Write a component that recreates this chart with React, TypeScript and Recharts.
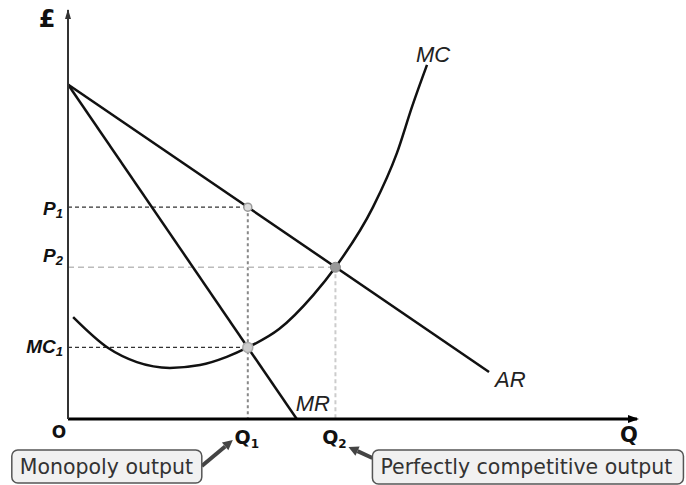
import { LineChart, Line, XAxis, YAxis, ReferenceLine, ReferenceDot } from 'recharts';

// equilibrium values (Q along x, £ along y)
const Q1 = 31.6;
const Q2 = 47.0;
const P1 = 51.8;
const P2 = 37.1;
const MC1 = 17.5;

const arData = [
    { q: 0, p: 81.8 },
    { q: 74, p: 11.5 },
];

const mrData = [
    { q: 0, p: 81.8 },
    { q: 40.2, p: 0 },
];

const mcData = [
    { q: 0.9, p: 24.9 },
    { q: 7.0, p: 17.4 },
    { q: 12.1, p: 13.9 },
    { q: 17.9, p: 12.5 },
    { q: 23.2, p: 13.2 },
    { q: 27.9, p: 15.2 },
    { q: 31.6, p: 17.5 },
    { q: 37.1, p: 22.0 },
    { q: 43.1, p: 30.3 },
    { q: 47.0, p: 37.1 },
    { q: 53.6, p: 51.8 },
    { q: 57.8, p: 65.0 },
    { q: 60.5, p: 76.5 },
    { q: 63.1, p: 86.6 },
];

const xTicks = [0, Q1, Q2, 100];
const yTicks = [MC1, P2, P1, 100];

const boldFont = '"DejaVu Sans", sans-serif';
const labelFont = '"Liberation Sans", Arial, sans-serif';

const XTick = ({ x, y, payload }: any) => {
    const v = payload.value;
    if (v === 0) {
        return <text x={x - 9} y={y + 19} textAnchor="middle" fontFamily={boldFont} fontWeight="bold" fontSize={17} fill="#111">O</text>;
    }
    if (v === 100) {
        return <text x={x - 8} y={y + 23} textAnchor="middle" fontFamily={boldFont} fontWeight="bold" fontSize={21} fill="#111">Q</text>;
    }
    const sub = v === Q1 ? '1' : '2';
    return (
        <text x={x - 1} y={y + 25} textAnchor="middle" fontFamily={boldFont} fontWeight="bold" fontSize={19} fill="#111">
            Q<tspan fontSize={12} dy={4}>{sub}</tspan>
        </text>
    );
};

const YTick = ({ x, y, payload }: any) => {
    const v = payload.value;
    if (v === 100) {
        return <text x={x - 16} y={y + 17} textAnchor="middle" fontFamily={boldFont} fontWeight="bold" fontSize={24} fill="#111">£</text>;
    }
    let main = 'P';
    let sub = '1';
    let dy = 8;
    if (v === P2) { sub = '2'; dy = -5; }
    if (v === MC1) { main = 'MC'; dy = 6; }
    return (
        <text x={x} y={y + dy} textAnchor="end" fontFamily={labelFont} fontWeight="bold" fontStyle="italic" fontSize={19} fill="#111">
            {main}<tspan fontSize={13} dy={3}>{sub}</tspan>
        </text>
    );
};

const CurveLabel = (text: string, dx: number, dy: number) => (props: any) => (
    <text x={props.cx + dx} y={props.cy + dy} fontFamily={labelFont} fontStyle="italic" fontSize={22} fill="#222">{text}</text>
);

const Callout = (text: string, box: number[], tail: number[], head: number[]) => (props: any) => {
    const { cx, cy } = props;
    const [bx, by, bw, bh] = box;
    const x1 = cx + tail[0], y1 = cy + tail[1], x2 = cx + head[0], y2 = cy + head[1];
    const ang = Math.atan2(y2 - y1, x2 - x1);
    const L = 10, W = 5;
    const ax = x2 - L * Math.cos(ang), ay = y2 - L * Math.sin(ang);
    const pts = `${x2},${y2} ${ax + W * Math.sin(ang)},${ay - W * Math.cos(ang)} ${ax - W * Math.sin(ang)},${ay + W * Math.cos(ang)}`;
    return (
        <g>
            <line x1={x1} y1={y1} x2={ax} y2={ay} stroke="#444" strokeWidth={4} />
            <polygon points={pts} fill="#444" />
            <rect x={cx + bx} y={cy + by} width={bw} height={bh} rx={6} fill="#f1f1f1" stroke="#555" strokeWidth={1.5} />
            <text x={cx + bx + 8} y={cy + by + 24} fontFamily={boldFont} fontSize={20.5} fill="#333">{text}</text>
        </g>
    );
};

const xArrow = (props: any) => (
    <polygon points={`${props.cx + 2},${props.cy} ${props.cx - 9},${props.cy - 4} ${props.cx - 9},${props.cy + 4}`} fill="#000" />
);

const yArrow = (props: any) => (
    <polygon points={`${props.cx},${props.cy - 1} ${props.cx - 3},${props.cy + 9} ${props.cx + 3},${props.cy + 9}`} fill="#333" />
);

export default function App() {
    return (
        <div style={{ position: 'absolute', left: 0, top: 0, background: '#fff' }}>
            <LineChart width={686} height={485} margin={{ top: 10, right: 49, bottom: 0, left: 0 }}>
                <XAxis
                    dataKey="q"
                    type="number"
                    domain={[0, 100]}
                    ticks={xTicks}
                    interval={0}
                    tickLine={false}
                    tickSize={0}
                    tickMargin={0}
                    height={66}
                    axisLine={{ stroke: '#000', strokeWidth: 3 }}
                    tick={<XTick />}
                    allowDataOverflow
                />
                <YAxis
                    type="number"
                    domain={[0, 100]}
                    ticks={yTicks}
                    interval={0}
                    tickLine={false}
                    tickSize={0}
                    tickMargin={5}
                    width={68}
                    axisLine={{ stroke: '#333', strokeWidth: 2 }}
                    tick={<YTick />}
                    allowDataOverflow
                />

                <ReferenceLine segment={[{ x: 0, y: P1 }, { x: Q1, y: P1 }]} stroke="#333" strokeWidth={1.3} strokeDasharray="4 3" />
                <ReferenceLine segment={[{ x: Q1, y: P1 }, { x: Q1, y: 0 }]} stroke="#888" strokeWidth={2} strokeDasharray="3 3" />
                <ReferenceLine segment={[{ x: 0, y: P2 }, { x: Q2, y: P2 }]} stroke="#bbb" strokeWidth={1.3} strokeDasharray="6 4" />
                <ReferenceLine segment={[{ x: Q2, y: P2 }, { x: Q2, y: 0 }]} stroke="#ccc" strokeWidth={2} strokeDasharray="4 3" />
                <ReferenceLine segment={[{ x: 0, y: MC1 }, { x: Q1, y: MC1 }]} stroke="#333" strokeWidth={1.3} strokeDasharray="4 3" />

                <Line data={arData} dataKey="p" type="linear" stroke="#111" strokeWidth={2.5} dot={false} isAnimationActive={false} />
                <Line data={mrData} dataKey="p" type="linear" stroke="#111" strokeWidth={2.5} dot={false} isAnimationActive={false} />
                <Line data={mcData} dataKey="p" type="monotone" stroke="#111" strokeWidth={2.5} dot={false} isAnimationActive={false} />

                <ReferenceDot x={Q1} y={P1} r={4} fill="#ddd" stroke="#999" strokeWidth={1.5} />
                <ReferenceDot x={Q1} y={MC1} r={5} fill="#ccc" stroke="#aaa" strokeWidth={1.5} />
                <ReferenceDot x={Q2} y={P2} r={5} fill="#999" stroke="#888" strokeWidth={1} />

                <ReferenceDot x={63.1} y={86.6} r={0} ifOverflow="visible" shape={CurveLabel('MC', -11, -3)} />
                <ReferenceDot x={74} y={11.5} r={0} ifOverflow="visible" shape={CurveLabel('AR', 6, 15)} />
                <ReferenceDot x={40.2} y={0} r={0} ifOverflow="visible" shape={CurveLabel('MR', -1, -8)} />

                <ReferenceDot x={100} y={0} r={0} ifOverflow="visible" shape={xArrow} />
                <ReferenceDot x={0} y={100} r={0} ifOverflow="visible" shape={yArrow} />

                <ReferenceDot x={Q1} y={0} r={0} ifOverflow="visible"
                    shape={Callout('Monopoly output', [-236, 31, 190, 33], [-46, 47], [-15, 21])} />
                <ReferenceDot x={Q2} y={0} r={0} ifOverflow="visible"
                    shape={Callout('Perfectly competitive output', [37, 31, 311, 34], [37, 39], [13, 28])} />
            </LineChart>
        </div>
    );
}
